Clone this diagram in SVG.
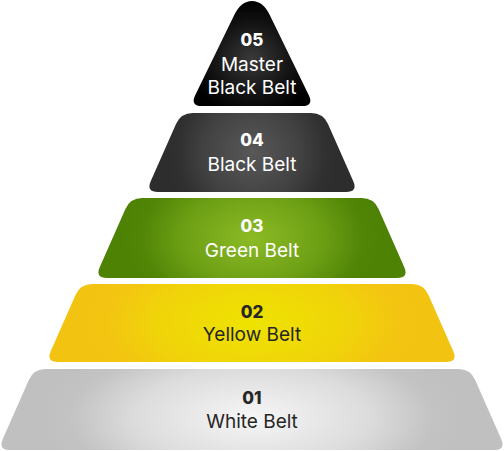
<svg xmlns="http://www.w3.org/2000/svg" width="504" height="451" viewBox="0 0 504 451">
<style>
.num{font-family:Inter,"Liberation Sans",sans-serif;font-weight:800;font-size:17px;text-anchor:middle}
.lbl{font-family:Inter,"Liberation Sans",sans-serif;font-weight:400;font-size:19px;text-anchor:middle}
.lt{fill:#ffffff}
.dk{fill:#262626}
</style>
<defs>
<radialGradient id="g1" cx="0.5" cy="0.6" r="0.5" gradientTransform="translate(0.5 0.6) scale(0.85 2.2) translate(-0.5 -0.6)"><stop offset="0" stop-color="#f6f6f6"/><stop offset="0.55" stop-color="#dcdcdc"/><stop offset="0.85" stop-color="#c3c3c3"/><stop offset="1" stop-color="#c0c0c0"/></radialGradient>
<radialGradient id="g2" cx="0.5" cy="0.5" r="0.5" gradientTransform="translate(0.5 0.5) scale(0.85 2.2) translate(-0.5 -0.5)"><stop offset="0" stop-color="#eee300"/><stop offset="0.55" stop-color="#f0d40a"/><stop offset="0.85" stop-color="#f3c511"/><stop offset="1" stop-color="#f3c312"/></radialGradient>
<radialGradient id="g3" cx="0.5" cy="0.5" r="0.5" gradientTransform="translate(0.5 0.5) scale(0.85 2.2) translate(-0.5 -0.5)"><stop offset="0" stop-color="#8cbb25"/><stop offset="0.55" stop-color="#6c9e14"/><stop offset="0.85" stop-color="#508506"/><stop offset="1" stop-color="#4e8204"/></radialGradient>
<radialGradient id="g4" cx="0.5" cy="0.5" r="0.5" gradientTransform="translate(0.5 0.5) scale(0.85 2.2) translate(-0.5 -0.5)"><stop offset="0" stop-color="#585858"/><stop offset="0.55" stop-color="#424242"/><stop offset="0.85" stop-color="#303030"/><stop offset="1" stop-color="#2d2d2d"/></radialGradient>
<radialGradient id="g5" cx="0.5" cy="0.55" r="0.55"><stop offset="0" stop-color="#3a3a3a"/><stop offset="0.6" stop-color="#141414"/><stop offset="1" stop-color="#000000"/></radialGradient>
</defs>
<g id="level1">
<path d="M45.6,369 H458.4 Q470.4,369 475.2,380 L501.2,439 Q506,450 494,450 H10 Q-2,450 2.8,439 L28.8,380 Q33.6,369 45.6,369 Z" fill="url(#g1)"/>
<text class="num dk" x="252" y="404">01</text>
<text class="lbl dk" x="252" y="428">White Belt</text>
</g>
<g id="level2">
<path d="M92.3,284 H411.7 Q423.7,284 428.5,295 L453.2,351 Q458,362 446,362 H58 Q46,362 50.8,351 L75.5,295 Q80.3,284 92.3,284 Z" fill="url(#g2)"/>
<text class="num dk" x="252" y="318">02</text>
<text class="lbl dk" x="252" y="341">Yellow Belt</text>
</g>
<g id="level3">
<path d="M142.2,198 H361.8 Q373.8,198 378.6,209 L404.2,267 Q409,278 397,278 H107 Q95,278 99.8,267 L125.4,209 Q130.2,198 142.2,198 Z" fill="url(#g3)"/>
<text class="num lt" x="252" y="232">03</text>
<text class="lbl lt" x="252" y="257">Green Belt</text>
</g>
<g id="level4">
<path d="M192.8,113 H311.2 Q323.2,113 328,124 L353.2,181 Q358,192 346,192 H158 Q146,192 150.8,181 L176,124 Q180.8,113 192.8,113 Z" fill="url(#g4)"/>
<text class="num lt" x="252" y="146">04</text>
<text class="lbl lt" x="252" y="171">Black Belt</text>
</g>
<g id="level5">
<path d="M252,1 Q263,1 270,15.4 L308.8,95.2 Q314,106 302,106 H202 Q190,106 195.2,95.2 L234,15.4 Q241,1 252,1 Z" fill="url(#g5)"/>
<text class="num lt" x="252" y="46">05</text>
<text class="lbl lt" x="252" y="71">Master</text>
<text class="lbl lt" x="252" y="94">Black Belt</text>
</g>
<g id="connectors"/>
</svg>
